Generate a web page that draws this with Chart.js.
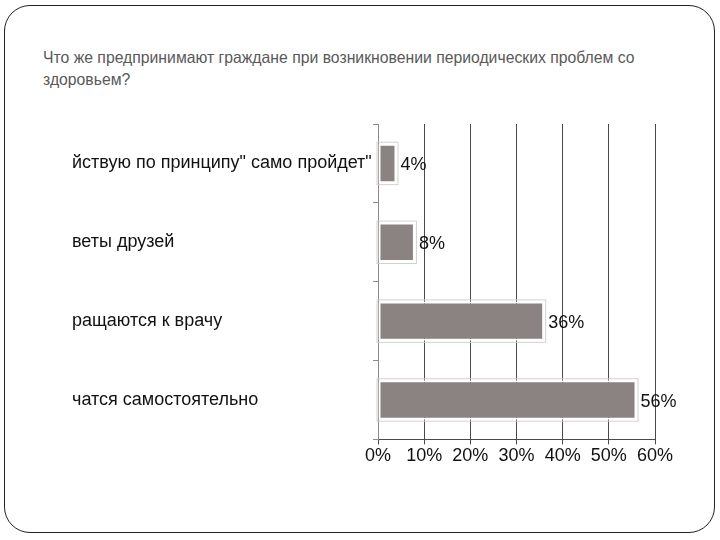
<!DOCTYPE html>
<html>
<head>
<meta charset="utf-8">
<script src="https://cdn.jsdelivr.net/npm/chart.js@4"></script>
<style>
  html, body { margin: 0; padding: 0; background: #fff; }
  #slide { position: relative; width: 720px; height: 540px; overflow: hidden; }
  #frame {
    position: absolute; left: 4px; top: 5px; width: 709px; height: 526px;
    border: 1.5px solid #222; border-radius: 26px;
  }
  #title {
    position: absolute; left: 43px; top: 46px; width: 720px;
    font-family: "Liberation Sans", Arial, sans-serif;
    font-size: 16.5px; line-height: 22px; color: #595959;
    transform: scaleX(0.955); transform-origin: left top;
  }
  #chartBox { position: absolute; left: 0; top: 0; width: 720px; height: 540px; }
</style>
</head>
<body>
<div id="slide">
  <div id="frame"></div>
  <div id="title">Что же предпринимают граждане при возникновении периодических проблем со<br>здоровьем?</div>
  <div id="chartBox"><canvas id="myChart" width="720" height="540"></canvas></div>
</div>
<script>
const categories = [
  'йствую по принципу" само пройдет"',
  "веты друзей",
  "ращаются к врачу",
  "чатся самостоятельно",
];
const shares = [4, 8, 36, 56];
const tickLabels = ["0%", "10%", "20%", "30%", "40%", "50%", "60%"];

// light outline round each bar + value label at its end
const barDecor = {
  id: "barDecor",
  afterDatasetsDraw(chart) {
    const ctx = chart.ctx;
    const meta = chart.getDatasetMeta(0);
    ctx.save();
    meta.data.forEach((bar, i) => {
      const left = Math.min(bar.base, bar.x);
      const right = Math.max(bar.base, bar.x);
      const top = bar.y - bar.height / 2;
      ctx.strokeStyle = "#d4d0d0";
      ctx.lineWidth = 1;
      ctx.strokeRect(left - 1.5, top - 1.5, right - left + 3, bar.height + 3);
      ctx.fillStyle = "#111";
      ctx.font = '18px "Liberation Sans", Arial, sans-serif';
      ctx.textBaseline = "middle";
      ctx.fillText(shares[i] + "%", right + 4, bar.y + 2);
    });
    ctx.restore();
  },
};

const ctx = document.getElementById("myChart").getContext("2d");
const myChart = new Chart(ctx, {
  type: "bar",
  data: {
    labels: categories,
    datasets: [
      {
        data: shares,
        backgroundColor: "#8b8282",
        borderColor: "#ffffff",
        borderWidth: 2,
        borderSkipped: false,
        categoryPercentage: 1,
        barPercentage: 0.5,
      },
    ],
  },
  options: {
    indexAxis: "y",
    responsive: false,
    animation: false,
    layout: { padding: { left: 72, top: 124, right: 65, bottom: 72 } },
    plugins: { legend: { display: false }, tooltip: { enabled: false } },
    scales: {
      x: {
        min: 0,
        max: 60,
        ticks: {
          stepSize: 10,
          color: "#111",
          font: { family: '"Liberation Sans", Arial, sans-serif', size: 18 },
          padding: 1,
          callback: (v, i) => tickLabels[i],
        },
        grid: { color: "#4a4a4a", lineWidth: 1, tickLength: 5 },
        border: { color: "#4a4a4a", width: 1 },
      },
      y: {
        afterFit(scale) {
          scale.width = 306;
        },
        ticks: {
          color: "#111",
          crossAlign: "far",
          font: { family: '"Liberation Sans", Arial, sans-serif', size: 18 },
        },
        grid: {
          offset: true,
          drawOnChartArea: false,
          color: "#8a8a8a",
          tickLength: 5,
        },
        border: { color: "#8a8a8a", width: 1 },
      },
    },
  },
  plugins: [barDecor],
});
</script>
</body>
</html>
